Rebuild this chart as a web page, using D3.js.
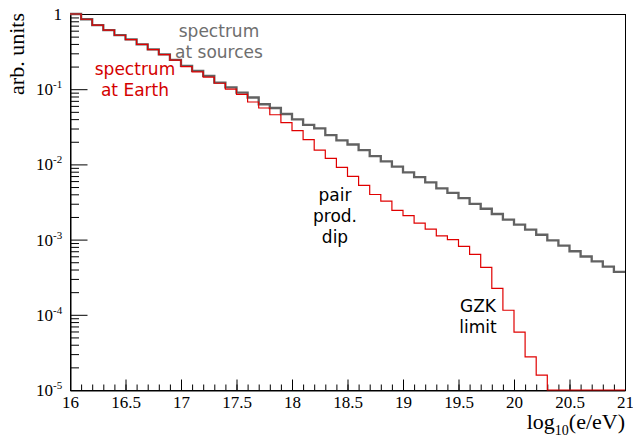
<!DOCTYPE html>
<html>
<head>
<meta charset="utf-8">
<script src="https://cdn.jsdelivr.net/npm/d3@7"></script>
<style>
  body { margin: 0; background: #fff; }
  svg { display: block; }
  .tl { font-family: "Liberation Serif", "Times New Roman", serif; fill: #000; }
  .note { font-family: "DejaVu Sans", sans-serif; font-size: 17px; text-anchor: middle; }
</style>
</head>
<body>
<script>
// bin edges: 50 bins of 0.1 in log10(E/eV)
var binEdges = d3.range(51).map(function(i){ return +(16 + i * 0.1).toFixed(1); });

// spectrum at sources (grey)
var sourceValues = [1.00, 0.851, 0.713, 0.612, 0.525, 0.461, 0.395, 0.339, 0.291, 0.245,
  0.204, 0.175, 0.150, 0.122, 0.106, 0.0899, 0.0776, 0.0631, 0.0562, 0.0468,
  0.0398, 0.0335, 0.0302, 0.0245, 0.0209, 0.0184, 0.0155, 0.0129, 0.0110, 0.00933,
  0.00785, 0.00676, 0.00575, 0.00479, 0.00417, 0.00355, 0.00299, 0.00257, 0.00219, 0.00184,
  0.00158, 0.00136, 0.00116, 0.000977, 0.000832, 0.000700, 0.000596, 0.000513, 0.000437, 0.000372];

// spectrum at Earth (red)
var earthValues = [1.00, 0.851, 0.713, 0.610, 0.522, 0.457, 0.394, 0.335, 0.288, 0.243,
  0.200, 0.170, 0.145, 0.120, 0.100, 0.0851, 0.0676, 0.0562, 0.0457, 0.0359,
  0.0282, 0.0214, 0.0155, 0.0120, 0.00912, 0.00692, 0.00525, 0.00398, 0.00324, 0.00245,
  0.00209, 0.00166, 0.00138, 0.00112, 0.00100, 0.000813, 0.000638, 0.000427, 0.000224, 0.000115,
  0.0000589, 0.0000275, 0.0000158, 0, 0, 0, 0, 0, 0, 0];

var xTicks = [16, 16.5, 17, 17.5, 18, 18.5, 19, 19.5, 20, 20.5, 21];
var yTicks = [1e-5, 1e-4, 1e-3, 1e-2, 1e-1, 1];
var yTickExp = [-5, -4, -3, -2, -1, 0];

var W = 633, H = 437;
var padL = 70, padR = 625, padT = 14, padB = 390;

var svg = d3.select("body").append("svg")
  .attr("width", W)
  .attr("height", H);

var x = d3.scaleLinear().domain([16, 21]).range([padL, padR]);
var y = d3.scaleLog().domain([1e-5, 1]).range([padB, padT]);

function yv(v){ return y(Math.max(v, 1e-5)); }

// frame
svg.append("rect")
  .attr("x", padL + 0.5).attr("y", padT + 0.5)
  .attr("width", padR - padL).attr("height", padB - padT)
  .attr("fill", "none").attr("stroke", "#000").attr("stroke-width", 1);

// x axis ticks (inward)
var xMinor = d3.range(51).map(function(i){ return 16 + i * 0.1; });
svg.append("g")
  .attr("transform", "translate(0," + (padB + 0.5) + ")")
  .call(d3.axisBottom(x).tickValues(xMinor).tickSize(-6).tickFormat(""))
  .call(function(g){ g.select(".domain").remove(); });
var gx = svg.append("g")
  .attr("transform", "translate(0," + (padB + 0.5) + ")")
  .call(d3.axisBottom(x).tickValues(xTicks).tickSize(-11)
    .tickFormat(function(d){ return d3.format("~g")(d); }));
gx.select(".domain").attr("stroke", "#000");
gx.selectAll("text").attr("class", "tl").style("font-size", "17px")
  .attr("y", 17).attr("dy", null);

// y axis ticks (inward)
var yMinor = [];
yTicks.slice(0, -1).forEach(function(t){
  for (var k = 2; k <= 9; k++) yMinor.push(t * k);
});
svg.append("g")
  .attr("transform", "translate(" + (padL + 0.5) + ",0)")
  .call(d3.axisLeft(y).tickValues(yMinor).tickSize(-8.5).tickFormat(""))
  .call(function(g){ g.select(".domain").remove(); });
var gy = svg.append("g")
  .attr("transform", "translate(" + (padL + 0.5) + ",0)")
  .call(d3.axisLeft(y).tickValues(yTicks).tickSize(-17).tickFormat(""));
gy.select(".domain").attr("stroke", "#000");

// y tick labels with superscripts
yTicks.forEach(function(t, i){
  var e = yTickExp[i];
  if (e === 0) {
    svg.append("text").attr("class", "tl")
      .attr("x", 62).attr("y", y(t) + 6)
      .attr("text-anchor", "end")
      .style("font-size", "17px")
      .text("1");
  } else {
    var tx = svg.append("text").attr("class", "tl")
      .attr("x", 36).attr("y", y(t) + 6)
      .style("font-size", "17px");
    tx.append("tspan").text("10");
    tx.append("tspan").attr("dy", -7).style("font-size", "11px").text(String(e));
  }
});

// axis titles
var xt = svg.append("text").attr("class", "tl")
  .attr("x", padR).attr("y", 429)
  .attr("text-anchor", "end")
  .style("font-size", "22px");
xt.append("tspan").text("log");
xt.append("tspan").attr("dy", 6).style("font-size", "14px").text("10");
xt.append("tspan").attr("dy", -6).text("(e/eV)");

svg.append("text").attr("class", "tl")
  .attr("transform", "translate(24," + (padT - 1) + ") rotate(-90)")
  .attr("text-anchor", "end")
  .style("font-size", "22px")
  .text("arb. units");

// histograms as step lines
function stepPoints(vals){
  var pts = vals.map(function(v, i){ return [binEdges[i], v]; });
  pts.push([binEdges[vals.length], vals[vals.length - 1]]);
  return pts;
}
var line = d3.line()
  .x(function(d){ return x(d[0]); })
  .y(function(d){ return yv(d[1]); })
  .curve(d3.curveStepAfter);

svg.append("path")
  .datum(stepPoints(sourceValues))
  .attr("d", line)
  .attr("fill", "none")
  .attr("stroke", "#626262")
  .attr("stroke-width", 2.3);

svg.append("path")
  .datum(stepPoints(earthValues))
  .attr("d", line)
  .attr("fill", "none")
  .attr("stroke", "#e00000")
  .attr("stroke-width", 1.2);

// annotations
function note(lines, cx, y0, color){
  var t = svg.append("text").attr("class", "note").attr("fill", color);
  lines.forEach(function(s, i){
    t.append("tspan").attr("x", cx).attr("y", y0 + i * 21).text(s);
  });
}
note(["spectrum", "at sources"], 219, 37, "#6e6e6e");
note(["spectrum", "at Earth"], 135, 75, "#d40000");
note(["pair", "prod.", "dip"], 335, 201, "#000");
note(["GZK", "limit"], 478, 312, "#000");
</script>
</body>
</html>
